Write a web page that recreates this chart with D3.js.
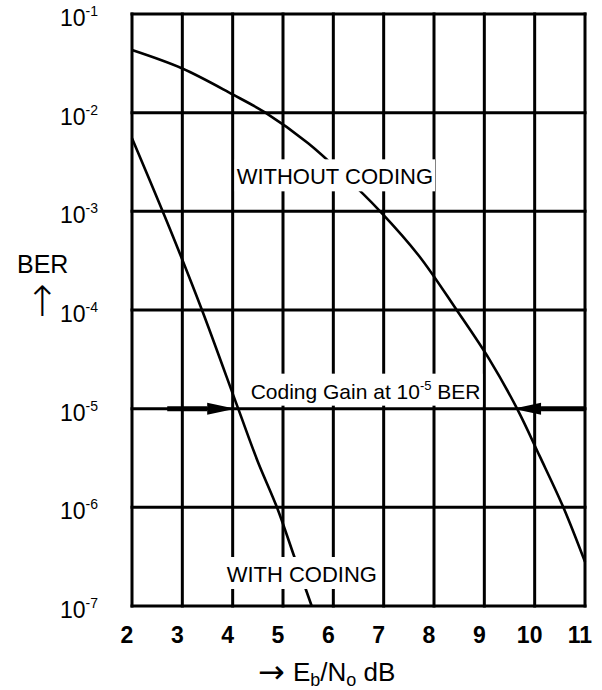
<!DOCTYPE html>
<html>
<head>
<meta charset="utf-8">
<script src="https://cdn.jsdelivr.net/npm/d3@7"></script>
<style>
  body { margin: 0; background: #fff; }
  text { font-family: "Liberation Sans", Arial, Helvetica, sans-serif; fill: #000; }
  .arrow { font-family: "DejaVu Sans", sans-serif; }
</style>
</head>
<body>
<script>
var width = 602,
    height = 690;

// values: Eb/No in dB, BER
var uncodedEbNo = [2, 3, 4, 4.65, 5.5, 6.2, 6.93, 7.7, 8.45, 9.1, 9.65, 10.1, 10.57, 11];
var uncodedBER  = [4.31e-2, 2.8e-2, 1.53e-2, 1e-2, 4.9e-3, 2.34e-3, 1e-3, 3.55e-4, 1e-4, 3.16e-5, 1e-5, 3.3e-6, 1e-6, 2.8e-7];
var codedEbNo   = [2, 2.76, 3.39, 4.11, 4.5, 4.88, 5.24, 5.57];
var codedBER    = [5.5e-3, 6.5e-4, 1e-4, 1e-5, 2.9e-6, 1e-6, 3e-7, 1e-7];
var xTicks = [2, 3, 4, 5, 6, 7, 8, 9, 10, 11];
var yExponents = [-1, -2, -3, -4, -5, -6, -7];
var gainBER = 1e-5,
    gainFrom = 4.11,   // with coding
    gainTo = 9.65,     // without coding
    gainTailLeft = 2.7;

var x = d3.scaleLinear().domain([2, 11]).range([132, 585]);
var y = d3.scaleLog().domain([1e-7, 1e-1]).range([606, 14]);

var svg = d3.select("body").append("svg")
    .attr("width", width)
    .attr("height", height);

// grid (the frame is just the outer grid lines)
svg.append("g").selectAll("line")
    .data(xTicks)
  .enter().append("line")
    .attr("x1", function(d) { return x(d); })
    .attr("x2", function(d) { return x(d); })
    .attr("y1", y(1e-1))
    .attr("y2", y(1e-7))
    .attr("stroke", "#000")
    .attr("stroke-width", 3)
    .attr("stroke-linecap", "square");

svg.append("g").selectAll("line")
    .data(yExponents)
  .enter().append("line")
    .attr("x1", x(2))
    .attr("x2", x(11))
    .attr("y1", function(d) { return y(Math.pow(10, d)); })
    .attr("y2", function(d) { return y(Math.pow(10, d)); })
    .attr("stroke", "#000")
    .attr("stroke-width", 3)
    .attr("stroke-linecap", "square");

var line = d3.line()
    .x(function(d) { return x(d[0]); })
    .y(function(d) { return y(d[1]); })
    .curve(d3.curveCatmullRom.alpha(0.5));

svg.append("path")
    .datum(d3.zip(uncodedEbNo, uncodedBER))
    .attr("d", line)
    .attr("fill", "none")
    .attr("stroke", "#000")
    .attr("stroke-width", 2.6);

svg.append("path")
    .datum(d3.zip(codedEbNo, codedBER))
    .attr("d", line)
    .attr("fill", "none")
    .attr("stroke", "#000")
    .attr("stroke-width", 2.6);

// coding gain arrows
function gainArrow(tail, tip) {
  var dir = tip > tail ? 1 : -1,
      yy = y(gainBER),
      headLen = 28;
  svg.append("line")
      .attr("x1", tail).attr("x2", tip - dir * headLen)
      .attr("y1", yy).attr("y2", yy)
      .attr("stroke", "#000")
      .attr("stroke-width", 5);
  svg.append("path")
      .attr("d", "M" + tip + "," + yy +
                 "L" + (tip - dir * headLen) + "," + (yy - 6) +
                 "L" + (tip - dir * headLen) + "," + (yy + 6) + "Z")
      .attr("fill", "#000");
}
gainArrow(x(gainTailLeft), x(gainFrom) - 3);
gainArrow(x(11), x(gainTo) - 4);

// labels sitting on white boxes that break the grid
function boxedLabel(tx, ty, size, parts) {
  var g = svg.append("g");
  var rect = g.append("rect").attr("fill", "#fff");
  var t = g.append("text")
      .attr("x", tx)
      .attr("y", ty)
      .style("font-size", size + "px");
  parts.forEach(function(p) {
    t.append("tspan")
        .attr("dy", p.dy || 0)
        .style("font-size", (p.size || size) + "px")
        .text(p.text);
  });
  var bb = t.node().getBBox();
  rect.attr("x", bb.x - 2)
      .attr("width", bb.width + 4)
      .attr("y", ty - 25)
      .attr("height", 32);
}

boxedLabel(x(4) + 4, y(1e-3) - 27, 22, [{text: "WITHOUT CODING"}]);
boxedLabel(x(4) + 18, y(1e-5) - 10, 21, [
  {text: "Coding Gain at 10"},
  {text: "-5", size: 13, dy: -9},
  {text: " BER", dy: 9}
]);
boxedLabel(x(4) - 6, y(1e-7) - 24, 22, [{text: "WITH CODING"}]);

// y tick labels
svg.append("g").selectAll("text")
    .data(yExponents)
  .enter().append("text")
    .attr("x", 60)
    .attr("y", function(d) { return y(Math.pow(10, d)) + 12; })
    .style("font-size", "23px")
    .each(function(d) {
      var t = d3.select(this);
      t.append("tspan").text("10");
      t.append("tspan").attr("dy", -10).style("font-size", "14px").text(String(d));
    });

// x tick labels
svg.append("g").selectAll("text")
    .data(xTicks)
  .enter().append("text")
    .attr("x", function(d) { return x(d) - 5; })
    .attr("y", 643)
    .attr("text-anchor", "middle")
    .style("font-size", "23px")
    .style("font-weight", "bold")
    .text(function(d) { return d; });

// axis titles
svg.append("text")
    .attr("x", 17)
    .attr("y", 273)
    .style("font-size", "25px")
    .text("BER");
svg.append("text")
    .attr("class", "arrow")
    .attr("x", 42)
    .attr("y", 316)
    .attr("text-anchor", "middle")
    .style("font-size", "42px")
    .style("font-weight", "200")
    .text("\u2191");

svg.append("text")
    .attr("class", "arrow")
    .attr("x", 258)
    .attr("y", 683)
    .style("font-size", "32px")
    .text("\u2192");
var xt = svg.append("text")
    .attr("x", 293)
    .attr("y", 681)
    .style("font-size", "26px");
xt.append("tspan").text("E");
xt.append("tspan").attr("dy", 5).style("font-size", "18px").text("b");
xt.append("tspan").attr("dy", -5).text("/N");
xt.append("tspan").attr("dy", 5).style("font-size", "18px").text("o");
xt.append("tspan").attr("dy", -5).text(" dB");
</script>
</body>
</html>
